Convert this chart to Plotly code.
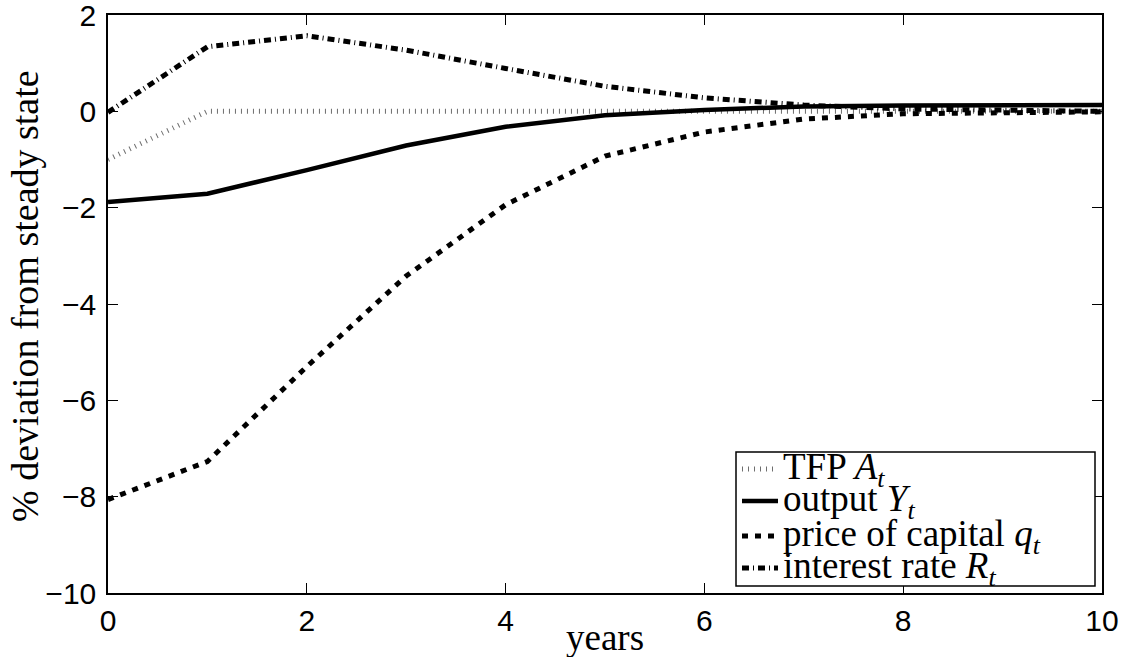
import plotly.graph_objects as go

# Impulse responses, in % deviation from steady state, by year after the shock
years = [0, 1, 2, 3, 4, 5, 6, 7, 8, 9, 10]
tfp = [-1.0, 0, 0, 0, 0, 0, 0, 0, 0, 0, 0]
output = [-1.88, -1.71, -1.22, -0.71, -0.32, -0.08, 0.03, 0.10, 0.12, 0.13, 0.13]
price_capital = [-8.06, -7.27, -5.30, -3.42, -1.94, -0.93, -0.43, -0.16, -0.05, -0.02, -0.01]
interest_rate = [-0.02, 1.34, 1.57, 1.27, 0.89, 0.52, 0.28, 0.13, 0.05, 0.02, 0.0]

x_ticks = [0, 2, 4, 6, 8, 10]
y_ticks = [-10, -8, -6, -4, -2, 0, 2]

W, H = 1128, 657
L, R, T, B = 108, 26, 15, 64
PW, PH = W - L - R, H - T - B

SERIF = "Liberation Serif, Times New Roman, serif"
SANS = "Liberation Sans, Arial, sans-serif"

styles = [
    dict(name="TFP", math="A", y=tfp, color="#6e6e6e", width=5, dash="1px,5px"),
    dict(name="output", math="Y", y=output, color="black", width=4.5, dash="solid"),
    dict(name="price of capital", math="q", y=price_capital, color="black", width=5, dash="6px,7px"),
    dict(name="interest rate", math="R", y=interest_rate, color="black", width=5, dash="7px,4px,1px,4px"),
]

fig = go.Figure()
for s in styles:
    fig.add_trace(go.Scatter(
        x=years, y=s["y"], mode="lines", name=s["name"],
        line=dict(color=s["color"], width=s["width"], dash=s["dash"]),
        showlegend=False,
    ))


def px(x):
    return (x - L) / PW


def py(y):
    return (H - B - y) / PH


# Boxed legend in the lower right corner
shapes = [dict(type="rect", xref="paper", yref="paper",
               x0=px(736), x1=px(1095), y0=py(586), y1=py(452),
               line=dict(color="black", width=1.5), fillcolor="white", layer="above")]
annotations = []
row_y = [469, 501, 536, 568]
for s, ry in zip(styles, row_y):
    shapes.append(dict(type="line", xref="paper", yref="paper",
                       x0=px(742), x1=px(778), y0=py(ry), y1=py(ry),
                       line=dict(color=s["color"], width=s["width"], dash=s["dash"]),
                       layer="above"))
    annotations.append(dict(
        xref="paper", yref="paper", x=px(781), y=py(ry), xanchor="left", yanchor="middle",
        text=f"{s['name']} <i>{s['math']}</i><sub><i>t</i></sub>",
        showarrow=False, font=dict(family=SERIF, size=37, color="black"),
    ))

# Axis titles
annotations.append(dict(xref="paper", yref="paper", x=0.5, y=0, yanchor="middle",
                        yshift=-44, text="years", showarrow=False,
                        font=dict(family=SERIF, size=37, color="black")))
annotations.append(dict(xref="paper", yref="paper", x=px(25), y=py(296),
                        xanchor="center", yanchor="middle", textangle=-90,
                        text="% deviation from steady state", showarrow=False,
                        font=dict(family=SERIF, size=38, color="black")))

axis_common = dict(
    showgrid=False, zeroline=False, showline=True, linecolor="black", linewidth=1.5,
    mirror="ticks", ticks="inside", ticklen=10, tickwidth=1, tickcolor="black",
    tickfont=dict(family=SANS, size=30, color="black"),
    ticklabeloverflow="allow", automargin=False,
)

fig.update_layout(
    width=W, height=H,
    margin=dict(l=L, r=R, t=T, b=B, autoexpand=False),
    paper_bgcolor="white", plot_bgcolor="white",
    xaxis=dict(range=[0, 10], tickvals=x_ticks, **axis_common),
    yaxis=dict(range=[-10, 2], tickvals=y_ticks, ticklabelstandoff=4, **axis_common),
    shapes=shapes, annotations=annotations,
    showlegend=False,
)

fig.write_html("out.html")
